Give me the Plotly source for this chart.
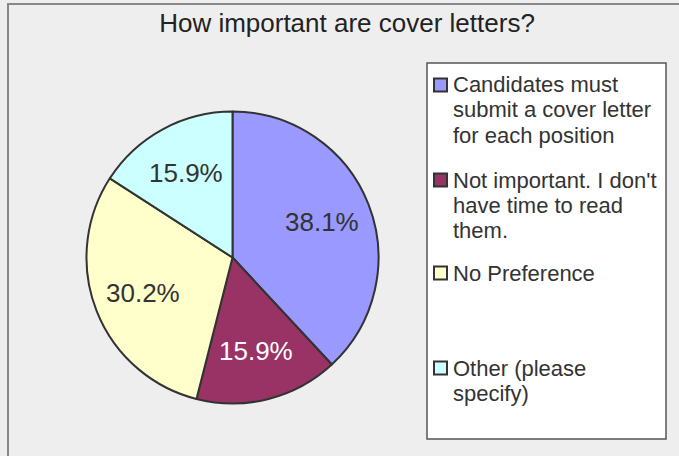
import math
import plotly.graph_objects as go

# ---- data ----
title_text = "How important are cover letters?"
categories = [
    "Candidates must<br>submit a cover letter<br>for each position",
    "Not important. I don't<br>have time to read<br>them.",
    "No Preference",
    "Other (please<br>specify)",
]
counts = [24, 10, 19, 10]
colors = ["#9999FF", "#993366", "#FFFFCC", "#CCFFFF"]
label_colors = ["#333333", "#FFFFFF", "#333333", "#333333"]

FONT = "Arial, Liberation Sans, sans-serif"

# ---- layout helpers (pixel -> paper) ----
W, H = 679, 456
def px(x):
    return x / W
def py(y):
    return 1 - y / H

cx, cy, r = 232.5, 257.5, 146
label_frac = 0.66

fig = go.Figure()
fig.add_trace(go.Pie(
    labels=[c.replace("<br>", " ") for c in categories],
    values=counts,
    sort=False,
    direction="clockwise",
    rotation=0,
    marker=dict(colors=colors, line=dict(color="#333333", width=2)),
    textinfo="none",
    domain=dict(x=[px(cx - r), px(cx + r)], y=[py(cy + r), py(cy - r)]),
    showlegend=False,
    hoverinfo="label+percent",
))

annotations = []
# percentage labels, positioned from the cumulative share of each slice
total = sum(counts)
cum = 0
for i, v in enumerate(counts):
    mid = (cum + v / 2) / total * 2 * math.pi
    cum += v
    lx = cx + label_frac * r * math.sin(mid)
    ly = cy - label_frac * r * math.cos(mid)
    annotations.append(dict(
        x=px(lx), y=py(ly), xref="paper", yref="paper",
        text=f"{v / total * 100:.1f}%", showarrow=False,
        xanchor="center", yanchor="middle",
        font=dict(family=FONT, size=26, color=label_colors[i]),
    ))

shapes = [
    # outer chart border
    dict(type="rect", xref="paper", yref="paper",
         x0=px(8), x1=px(700), y0=py(480), y1=py(4),
         line=dict(color="#888888", width=2), fillcolor="rgba(0,0,0,0)", layer="below"),
    # legend box
    dict(type="rect", xref="paper", yref="paper",
         x0=px(427), x1=px(666), y0=py(439), y1=py(63),
         line=dict(color="#555555", width=1.5), fillcolor="#FFFFFF", layer="below"),
]
entry_y = [85, 180, 273, 368]
line_gap = 25
for i, cat in enumerate(categories):
    y0 = entry_y[i]
    shapes.append(dict(type="rect", xref="paper", yref="paper",
                       x0=px(434), x1=px(447), y0=py(y0 + 6.5), y1=py(y0 - 6.5),
                       line=dict(color="#333333", width=2), fillcolor=colors[i]))
    for j, line in enumerate(cat.split("<br>")):
        annotations.append(dict(
            x=px(451), y=py(y0 + j * line_gap), xref="paper", yref="paper",
            text=line, showarrow=False, xanchor="left", yanchor="middle",
            font=dict(family=FONT, size=22, color="#333333"),
        ))

fig.update_layout(
    width=W, height=H,
    margin=dict(l=0, r=0, t=0, b=0),
    paper_bgcolor="#EEEEEE",
    plot_bgcolor="#EEEEEE",
    title=dict(text=title_text, x=px(347), y=py(23), xanchor="center", yanchor="middle",
               font=dict(family=FONT, size=26, color="#222222")),
    shapes=shapes,
    annotations=annotations,
)

fig.write_html("out.html", config={"displayModeBar": False},
               post_script="document.body.style.margin='0';")
